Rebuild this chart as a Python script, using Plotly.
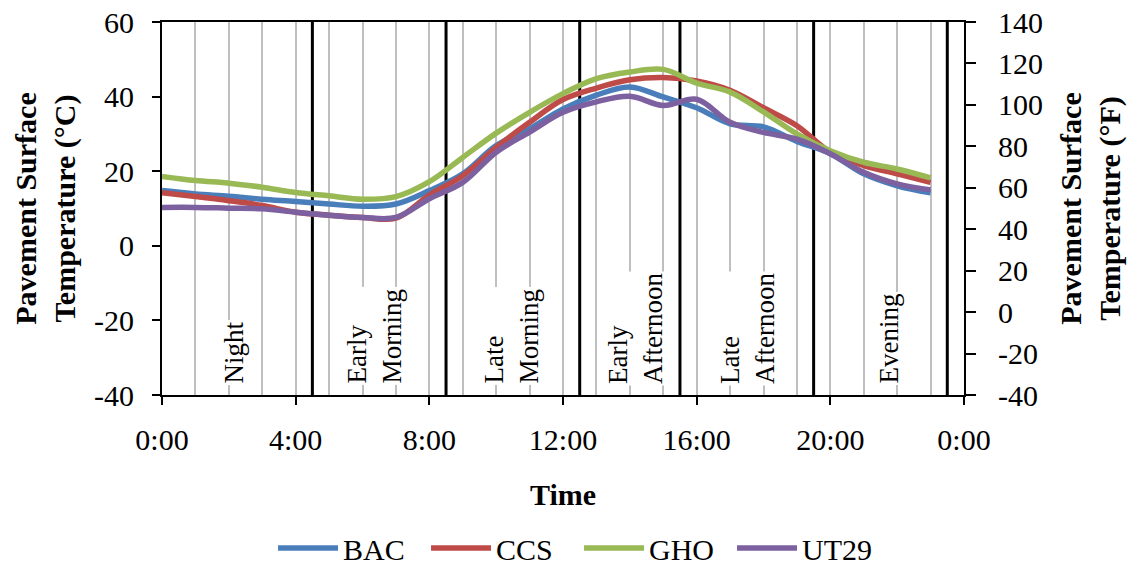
import plotly.graph_objects as go

# ---------------- data ----------------
hours = list(range(24))
BAC = [14.8, 13.9, 13.3, 12.5, 11.9, 11.2, 10.6, 11.2, 14.8, 19.3, 26.9, 31.4,
       36.7, 40.4, 42.6, 39.9, 37.0, 32.7, 31.9, 28.0, 24.7, 19.3, 16.1, 14.2]
CCS = [14.2, 13.2, 12.1, 10.8, 9.0, 8.2, 7.6, 7.4, 13.6, 18.8, 26.4, 33.1,
       39.2, 42.3, 44.5, 45.1, 44.2, 41.7, 37.0, 32.2, 25.1, 21.5, 19.3, 17.0]
GHO = [18.6, 17.5, 16.8, 15.7, 14.3, 13.4, 12.5, 13.2, 17.2, 23.7, 30.2, 35.8,
       40.8, 44.8, 46.6, 47.3, 43.6, 41.2, 35.9, 30.0, 25.5, 22.4, 20.6, 18.2]
UT29 = [10.3, 10.3, 10.1, 9.9, 9.0, 8.2, 7.6, 7.6, 12.6, 17.0, 25.1, 30.5,
        35.8, 38.6, 40.1, 37.6, 39.3, 33.1, 30.4, 28.6, 24.7, 19.7, 16.6, 15.0]

series_names = ["BAC", "CCS", "GHO", "UT29"]
series_values = [BAC, CCS, GHO, UT29]
series_colors = ["#4A7EBB", "#BE4B48", "#98B954", "#7D60A0"]

x_tickvals = [0, 4, 8, 12, 16, 20, 24]
x_ticktext = ["0:00", "4:00", "8:00", "12:00", "16:00", "20:00", "0:00"]

yc_tickvals = [-40, -20, 0, 20, 40, 60]
yc_ticktext = ["-40", "-20", "0", "20", "40", "60"]
yf_tickvals = [-40, -20, 0, 20, 40, 60, 80, 100, 120, 140]
yf_ticktext = ["-40", "-20", "0", "20", "40", "60", "80", "100", "120", "140"]

period_bounds = [4.5, 8.5, 12.5, 15.5, 19.5, 23.5]
period_labels = ["Night", "Early<br>Morning", "Late<br>Morning",
                 "Early<br>Afternoon", "Late<br>Afternoon", "Evening"]
period_label_x = [2.15, 6.35, 10.45, 14.15, 17.5, 21.75]

FONT = "Liberation Serif, Times New Roman, serif"

fig = go.Figure()
for name, vals, col in zip(series_names, series_values, series_colors):
    fig.add_trace(go.Scatter(x=hours, y=vals, name=name, mode="lines",
                             line=dict(color=col, width=5.5, shape="spline")))

# hidden trace to carry the Fahrenheit axis
fig.add_trace(go.Scatter(x=hours, y=[c * 9 / 5 + 32 for c in BAC], yaxis="y2",
                         mode="lines", line=dict(width=0), opacity=0,
                         showlegend=False, hoverinfo="skip"))

for b in period_bounds:
    fig.add_shape(type="line", xref="x", yref="paper", x0=b, x1=b, y0=0, y1=1,
                  line=dict(color="black", width=3), layer="below")

for txt, xp in zip(period_labels, period_label_x):
    fig.add_annotation(x=xp, y=-37.5, xref="x", yref="y", text=txt,
                       textangle=-90, showarrow=False, xanchor="center",
                       yanchor="bottom", align="left", bgcolor="white",
                       font=dict(family=FONT, size=27, color="black"))

fig.update_layout(
    width=1127, height=565,
    margin=dict(l=162, r=163, t=22, b=170, autoexpand=False),
    paper_bgcolor="white", plot_bgcolor="white",
    font=dict(family=FONT, size=30, color="black"),
    showlegend=True,
    legend=dict(orientation="h", x=0.52, xanchor="center", y=-0.41,
                yanchor="middle", font=dict(size=30), itemwidth=60,
                entrywidth=78, tracegroupgap=0),
    xaxis=dict(range=[0, 24], tickmode="array", tickvals=x_tickvals,
               ticktext=x_ticktext, showgrid=True, gridcolor="#BFBFBF",
               gridwidth=2, showline=True, linecolor="black", linewidth=2,
               mirror=True, ticks="outside", ticklen=8, tickwidth=2,
               tickcolor="black", ticklabelstandoff=9, zeroline=False,
               automargin=False,
               minor=dict(tick0=0, dtick=1, showgrid=True,
                          gridcolor="#BFBFBF", gridwidth=2, ticks=""),
               title=dict(text="<b>Time</b>", standoff=29,
                          font=dict(size=30))),
    yaxis=dict(range=[-40, 60], tickmode="array", tickvals=yc_tickvals,
               ticktext=yc_ticktext, showgrid=False,
               zeroline=False, showline=True, linecolor="black", linewidth=2,
               ticks="outside", ticklen=8, tickwidth=2, tickcolor="black",
               ticklabelstandoff=12, automargin=False,
               title=dict(text="<b>Pavement Surface<br>Temperature (°C)</b>",
                          standoff=10, font=dict(size=30))),
    yaxis2=dict(range=[-40, 140], tickmode="array", tickvals=yf_tickvals,
                ticktext=yf_ticktext, overlaying="y",
                side="right", anchor="x", showgrid=False, zeroline=False,
                showline=True, linecolor="black", linewidth=2,
                ticks="outside", ticklen=10, tickwidth=2, tickcolor="black",
                ticklabelstandoff=16, automargin=False,
                title=dict(text="<b>Pavement Surface<br>Temperature (°F)</b>",
                           standoff=19, font=dict(size=30))),
)

fig.write_html("out.html")
